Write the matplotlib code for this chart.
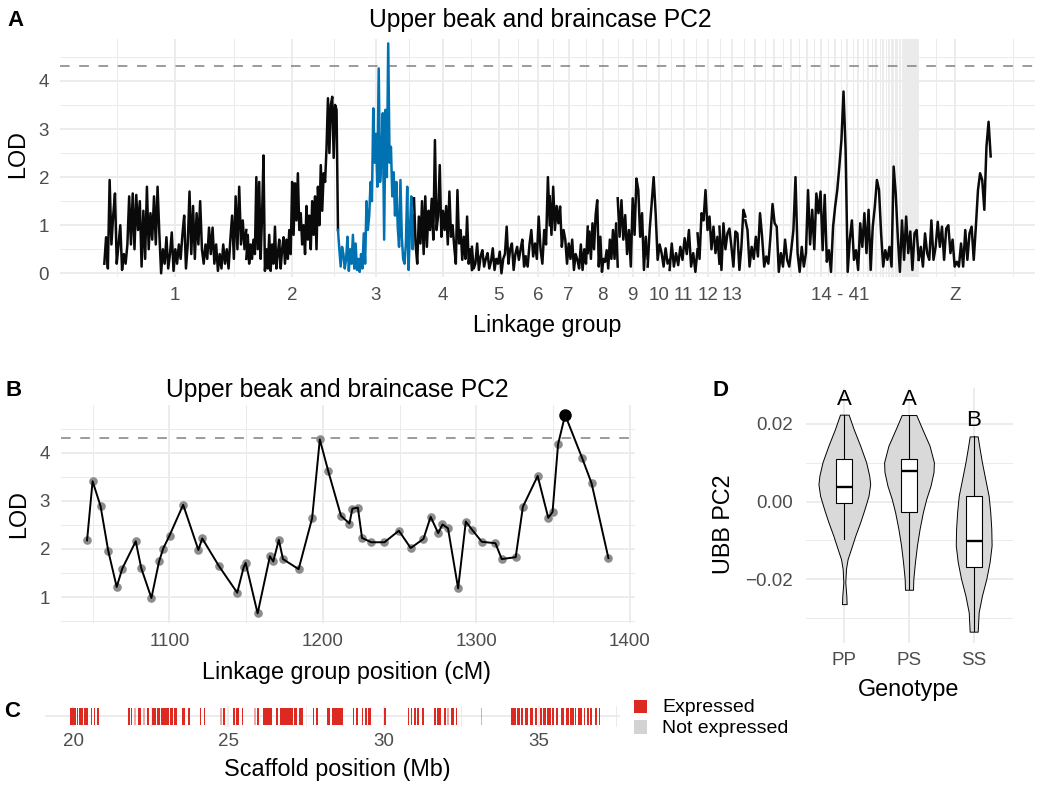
import matplotlib.pyplot as plt
import matplotlib.patches as mpatches
import numpy as np

plt.rcParams['font.family'] = ['Liberation Sans', 'DejaVu Sans']

W, H = 1050, 789
GRID = '#EBEBEB'
TICK = '#4D4D4D'
BLUE = '#0072B2'
RED = '#DC2A22'
GREY_FILL = '#D9D9D9'

# ---------------- panel A: genome scan ----------------
chrom_names = [str(i) for i in range(1, 42)] + ['Z']
chrom_len = [635, 410, 340, 259, 241, 107, 170, 134, 134, 98, 125, 98, 116,
             89, 80, 72, 67, 63, 58, 54, 45, 40, 36, 27, 22, 18, 16, 13, 11, 9,
             5, 5, 5, 5, 5, 5, 5, 5, 5, 5, 5,
             322]
micro_label = '14 - 41'
micro_label_pos = 3290
qtl_chrom = '3'
lod_threshold = 4.3

lod_scan = {
    '1': [0.2, 0.75, 0.1, 1.94, 0.6, 1.2, 1.66, 0.2, 0.6, 1.0, 0.07, 0.4, 0.2, 0.6,
          1.6, 0.6, 1.66, 0.5, 1.63, 0.9, 1.5, 0.14, 1.3, 0.3, 1.8, 0.5, 1.25, 0.7,
          1.6, 0.6, 1.8, 0.83, 0.0, 0.5, 0.2, 0.75, 0.1, 0.4, 0.85, 0.05, 0.5, 0.2,
          0.6, 0.3, 0.8, 1.2, 0.1, 0.6, 1.7, 0.4, 1.4, 0.3, 1.25, 0.6, 1.5, 0.5, 0.2,
          0.6, 0.3, 0.95, 0.4, 0.95, 0.2, 0.6, 0.05, 0.4, 0.1, 0.6, 0.2, 0.5, 0.1,
          0.7, 1.2, 0.3, 1.6, 0.5, 1.8, 0.6, 1.1, 0.5, 0.9],
    '2': [0.3, 0.8, 0.2, 0.6, 0.3, 0.7, 0.4, 2.0, 0.5, 1.9, 0.3, 1.2, 2.45, 0.05,
          0.5, 0.1, 0.8, 0.05, 0.6, 0.2, 0.97, 0.1, 0.4, 0.7, 0.1, 0.5, 0.75, 0.2,
          0.7, 0.3, 0.9, 0.4, 1.9, 0.8, 1.87, 1.1, 2.08, 0.9, 1.25, 0.6, 1.0, 0.4,
          1.4, 0.7, 1.2, 0.5, 1.5, 0.8, 1.6, 0.5, 1.8, 1.0, 2.25, 1.3, 2.08, 1.9,
          2.6, 3.64, 2.5, 3.5, 3.67, 2.4, 3.5, 3.4, 0.9],
    '3': [0.9, 0.5, 0.14, 0.55, 0.4, 0.1, 0.3, 0.76, 0.05, 0.5, 0.2, 0.8, 0.1, 0.62,
          0.07, 0.3, 0.03, 0.4, 0.1, 0.83, 0.2, 1.5, 0.9, 1.2, 1.9, 1.5, 3.43, 2.3,
          2.9, 1.8, 4.26, 1.9, 2.4, 3.33, 0.7, 3.4, 2.0, 4.78, 2.3, 2.63, 1.6, 2.1,
          1.2, 1.9, 0.97, 0.55, 1.94, 0.76, 0.3, 0.2, 0.6, 1.8, 0.07, 0.9, 1.6, 0.5,
          1.2],
    '4': [1.56, 0.6, 0.2, 1.18, 0.62, 1.5, 0.4, 1.6, 0.55, 1.3, 0.9, 1.55, 0.7, 2.77,
          0.9, 1.2, 2.25, 0.76, 1.3, 0.9, 1.4, 0.6, 1.7, 0.76, 1.0, 0.55, 0.2, 1.73,
          0.62, 0.9, 0.28, 0.76, 0.3, 1.18, 0.2, 0.5, 0.07],
    '5': [0.55, 0.1, 0.2, 0.62, 0.07, 0.35, 0.48, 0.14, 0.3, 0.42, 0.1, 0.25, 0.52,
          0.07, 0.3, 0.2, 0.45, 0.0, 0.3, 0.4, 0.97, 0.2, 0.5, 0.62, 0.07, 0.4, 0.55,
          0.28, 0.5, 0.7, 0.14, 0.35],
    '6': [0.3, 0.14, 0.6, 0.9, 0.35, 0.62, 0.3, 1.18, 0.5, 0.2, 0.9, 0.6, 2.0, 1.0],
    '7': [1.6, 0.8, 1.8, 0.9, 1.4, 1.04, 1.39, 0.55, 0.9, 0.7, 0.2, 0.62, 0.3, 0.7,
          0.07, 0.4, 0.28, 0.1, 0.6, 0.07, 0.5, 0.2, 0.97],
    '8': [0.42, 0.87, 0.3, 1.04, 0.5, 1.21, 1.52, 0.14, 0.76, 0.03, 0.3, 0.24, 0.48,
          0.1, 0.7, 0.3, 0.9, 0.3, 1.04, 0.14],
    '9': [1.56, 0.76, 1.52, 0.7, 1.21, 0.4, 0.9, 0.14, 1.56, 0.8, 1.97, 1.73, 0.76,
          1.25, 0.07, 0.76, 0.3],
    '10': [0.14, 0.9, 1.45, 2.0, 1.25, 0.28, 0.6, 0.42, 0.14, 0.52, 0.2, 0.28],
    '11': [0.07, 0.62, 0.14, 0.42, 0.17, 0.55, 0.28, 0.73, 0.4, 0.9, 0.14, 0.42,
           0.03, 0.5],
    '12': [0.83, 0.3, 1.25, 1.1, 1.73, 0.9, 1.18, 0.5, 0.97, 0.42, 0.76, 0.2],
    '13': [0.97, 0.07, 1.04, 0.5, 0.83, 0.93, 0.55, 0.14, 0.87, 0.83, 0.07, 0.55,
           1.32, 1.18],
    'Z': [0.28, 0.55, 0.14, 0.83, 0.42, 0.28, 1.1, 0.28, 0.55, 1.07, 0.55, 0.97, 0.28,
          0.93, 1.0, 0.42, 0.7, 0.14, 0.24, 0.14, 0.62, 0.14, 0.9, 0.28, 0.83, 0.97,
          0.28, 0.97, 1.73, 2.08, 1.94, 1.32, 2.63, 3.15, 2.43],
}
# chromosomes 14 - 41 drawn as one block
lod_micro = [1.1, 0.9, 0.14, 0.55, 0.3, 0.76, 0.35, 1.25, 0.76, 0.14, 0.35, 0.2, 0.76,
             1.44, 1.04, 0.97, 0.03, 0.42, 0.14, 0.7, 0.28, 0.14, 0.5, 0.9, 2.0, 0.42,
             0.03, 0.55, 0.14, 0.42, 1.73, 0.6, 1.32, 0.5, 1.66, 1.25, 1.7, 0.48, 1.63,
             0.24, 0.48, 0.03, 0.97, 1.39, 1.73, 2.22, 2.77, 3.78, 2.56, 0.03, 0.7, 1.1,
             0.28, 0.48, 0.07, 1.04, 0.55, 1.25, 0.42, 1.32, 0.07, 0.97, 1.39, 1.94,
             1.73, 0.83, 0.14, 0.48, 0.28, 0.55, 0.14, 2.22, 1.66, 0.76, 0.03, 1.1,
             0.28, 1.18, 0.42, 0.87, 0.07, 0.83, 0.9, 0.28]

# ---------------- panel B: chromosome 3 ----------------
pos_b = [1046.4, 1050.0, 1055.2, 1060.2, 1065.7, 1069.3, 1078.1, 1081.7, 1088.3, 1093.3,
         1096.0, 1100.1, 1109.0, 1118.9, 1121.4, 1132.4, 1144.2, 1148.4, 1149.7, 1157.5,
         1165.5, 1167.7, 1171.3, 1174.0, 1184.2, 1193.0, 1198.0, 1203.5, 1211.8, 1217.3,
         1219.2, 1222.8, 1225.5, 1231.6, 1240.1, 1249.5, 1257.2, 1265.5, 1270.2, 1275.1,
         1277.9, 1281.5, 1288.1, 1293.1, 1297.2, 1303.5, 1312.4, 1316.5, 1325.6, 1330.3,
         1339.9, 1346.8, 1349.6, 1353.2, 1357.8, 1368.9, 1375.0, 1386.0]
lod_b = [2.18, 3.41, 2.89, 1.96, 1.21, 1.59, 2.16, 1.60, 0.98, 1.74,
         2.01, 2.28, 2.92, 1.98, 2.22, 1.64, 1.09, 1.62, 1.71, 0.66,
         1.85, 1.74, 2.19, 1.79, 1.58, 2.64, 4.28, 3.62, 2.69, 2.53,
         2.84, 2.86, 2.23, 2.14, 2.14, 2.38, 2.02, 2.21, 2.67, 2.33,
         2.51, 2.43, 1.18, 2.57, 2.40, 2.15, 2.12, 1.79, 1.83, 2.88,
         3.52, 2.65, 2.77, 4.18, 4.79, 3.89, 3.37, 1.81]

# ---------------- panel C: genes on scaffold ----------------
gene_start = [19.91, 20.12, 20.19, 20.35, 20.56, 20.66, 20.77, 21.76, 21.87, 21.95,
              22.08, 22.24, 22.37, 22.55, 22.69, 22.84, 22.97, 23.13, 23.26, 23.51,
              23.69, 24.07, 24.20, 24.36, 24.73, 24.84, 25.14, 25.25, 25.44, 25.84,
              25.91, 26.10, 26.53, 26.66, 27.12, 27.28, 27.71, 27.82, 28.19, 28.33,
              29.00, 29.11, 29.30, 29.41, 29.51, 30.02, 30.77, 30.87, 30.98, 31.09,
              31.23, 31.62, 31.73, 31.95, 32.05, 32.16, 32.32, 33.13, 34.09, 34.30,
              34.44, 34.57, 34.73, 34.87, 35.05, 35.13, 35.27, 35.41, 35.54, 35.70,
              35.86, 36.02, 36.16, 36.26, 36.45, 36.55, 36.66, 36.82, 36.93]
gene_end = [20.08, 20.15, 20.32, 20.48, 20.62, 20.70, 20.83, 21.82, 21.90, 22.03,
            22.19, 22.31, 22.44, 22.68, 22.78, 22.95, 23.10, 23.21, 23.34, 23.59,
            23.75, 24.12, 24.24, 24.39, 24.80, 24.90, 25.20, 25.35, 25.48, 25.89,
            25.97, 26.42, 26.59, 27.07, 27.20, 27.39, 27.77, 27.90, 28.27, 28.68,
            29.05, 29.16, 29.34, 29.45, 29.59, 30.07, 30.82, 30.93, 31.04, 31.14,
            31.30, 31.68, 31.84, 32.02, 32.11, 32.26, 32.37, 33.18, 34.25, 34.38,
            34.49, 34.66, 34.81, 34.95, 35.11, 35.22, 35.38, 35.48, 35.62, 35.80,
            35.96, 36.12, 36.20, 36.39, 36.50, 36.61, 36.71, 36.87, 36.98]
faint_genes = [21.95, 22.24, 24.36, 24.73, 25.84, 32.05, 33.13]

# ---------------- panel D: genotype effect ----------------
genotypes = ['PP', 'PS', 'SS']
group_letters = ['A', 'A', 'B']
violin_y = {
    'PP': [0.0224, 0.0187, 0.0144, 0.0101, 0.0067, 0.0045, 0.0015, -0.0019, -0.0053,
           -0.0088, -0.0122, -0.0148, -0.0173, -0.0208, -0.0242, -0.0264],
    'PS': [0.0223, 0.0187, 0.0144, 0.0101, 0.0076, 0.0041, 0.0007, -0.0027, -0.0070,
           -0.0113, -0.0156, -0.0199, -0.0227],
    'SS': [0.0168, 0.0136, 0.0101, 0.0058, 0.0015, -0.0027, -0.0070, -0.0113, -0.0156,
           -0.0199, -0.0242, -0.0285, -0.0335],
}
violin_hw = {
    'PP': [0.067, 0.144, 0.246, 0.338, 0.385, 0.400, 0.374, 0.313, 0.246, 0.169,
           0.103, 0.051, 0.026, 0.015, 0.031, 0.036],
    'PS': [0.113, 0.205, 0.318, 0.385, 0.379, 0.333, 0.267, 0.215, 0.164, 0.123,
           0.092, 0.067, 0.062],
    'SS': [0.062, 0.092, 0.128, 0.179, 0.231, 0.256, 0.272, 0.277, 0.246, 0.195,
           0.128, 0.077, 0.062],
}
box_lo = [-0.0096, -0.0226, -0.0333]
box_q1 = [-0.0003, -0.0027, -0.0168]
box_med = [0.0038, 0.0079, -0.0102]
box_q3 = [0.0110, 0.0110, 0.0015]
box_hi = [0.0223, 0.0223, 0.0168]

# ---------------- helpers ----------------
fig = plt.figure(figsize=(W / 100, H / 100), dpi=100)


def px_axes(left, top, right, bottom):
    ax = fig.add_axes([left / W, 1 - bottom / H, (right - left) / W, (bottom - top) / H])
    for sp in ax.spines.values():
        sp.set_visible(False)
    ax.tick_params(length=0, colors=TICK, labelsize=13.5)
    return ax


def px_text(x, y, s, **kw):
    kw.setdefault('ha', 'center')
    kw.setdefault('va', 'baseline')
    fig.text(x / W, 1 - y / H, s, **kw)


def vgrid(ax, xs, lw):
    for x in xs:
        ax.axvline(x, color=GRID, lw=lw, zorder=0)


def hgrid(ax, ys, lw):
    for y in ys:
        ax.axhline(y, color=GRID, lw=lw, zorder=0)


# ---------------- panel A ----------------
axA = px_axes(60, 39.3, 1035, 277.3)
starts = np.concatenate([[0], np.cumsum(chrom_len)[:-1]])
ends = starts + np.array(chrom_len)
centers = (starts + ends) / 2
total = ends[-1]
axA.set_xlim(-0.05 * total, 1.05 * total)
axA.set_ylim(-0.083, 4.865)

bd = centers[1] - centers[0]
ext = np.concatenate([[centers[0] - bd], centers, [centers[-1] + bd]])
vgrid(axA, (ext[:-1] + ext[1:]) / 2, 0.7)
vgrid(axA, centers, 1.3)
hgrid(axA, np.arange(0.5, 5, 1.0), 0.7)
hgrid(axA, range(5), 1.3)
axA.axhline(lod_threshold, color='#808080', lw=1.1, ls='--', dashes=(6.3, 6.3), zorder=1)

for name, vals in lod_scan.items():
    i = chrom_names.index(name)
    x = np.linspace(starts[i], ends[i], len(vals))
    axA.plot(x, vals, color=BLUE if name == qtl_chrom else '#0A0A0A', lw=1.8, zorder=2)
i14, i41 = chrom_names.index('14'), chrom_names.index('41')
axA.plot(np.linspace(starts[i14], ends[i41], len(lod_micro)), lod_micro,
         color='#0A0A0A', lw=1.8, zorder=2)

xt = list(centers[:13]) + [micro_label_pos, centers[-1]]
xl = chrom_names[:13] + [micro_label, 'Z']
axA.set_xticks(xt)
axA.set_xticklabels(xl)
axA.set_yticks(range(5))
axA.tick_params(axis='x', pad=7)
axA.tick_params(axis='y', pad=7.9)

px_text(15, 26.5, 'A', fontsize=16, fontweight='bold')
px_text(540, 26.5, 'Upper beak and braincase PC2', fontsize=17.7)
px_text(547, 332, 'Linkage group', fontsize=16.8)
px_text(18, 154, 'LOD', fontsize=16.8, rotation=90, va='center')

# ---------------- panel B ----------------
axB = px_axes(61, 405, 634.5, 623.3)
rx = max(pos_b) - min(pos_b)
ry = max(lod_b) - min(lod_b)
axB.set_xlim(min(pos_b) - 0.05 * rx, max(pos_b) + 0.05 * rx)
axB.set_ylim(min(lod_b) - 0.05 * ry, max(lod_b) + 0.05 * ry)
vgrid(axB, [1050, 1150, 1250, 1350], 0.7)
vgrid(axB, [1100, 1200, 1300, 1400], 1.3)
hgrid(axB, [0.5, 1.5, 2.5, 3.5, 4.5], 0.7)
hgrid(axB, [1, 2, 3, 4], 1.3)
axB.axhline(lod_threshold, color='#808080', lw=1.1, ls='--', dashes=(6.3, 6.3), zorder=1)
axB.plot(pos_b, lod_b, 'o', color='#8C8C8C', ms=6.2, mew=0, zorder=2)
axB.plot(pos_b, lod_b, color='black', lw=1.4, zorder=3)
imax = int(np.argmax(lod_b))
axB.plot(pos_b[imax], lod_b[imax], 'o', color='black', ms=9, mew=0, zorder=4)
axB.set_xticks([1100, 1200, 1300, 1400])
axB.set_yticks([1, 2, 3, 4])
axB.tick_params(axis='x', pad=7.2)
axB.tick_params(axis='y', pad=7.9)

px_text(14, 396.5, 'B', fontsize=16, fontweight='bold')
px_text(337, 396.5, 'Upper beak and braincase PC2', fontsize=17.7)
px_text(347, 678.5, 'Linkage group position (cM)', fontsize=16.8)
px_text(19, 514, 'LOD', fontsize=16.8, rotation=90, va='center')

# ---------------- panel C ----------------
axC = px_axes(44.5, 706, 620, 726.7)
axC.set_xlim(19.075, 37.615)
axC.set_ylim(0.4, 1.6)
vgrid(axC, [17.5, 22.5, 27.5, 32.5, 37.5], 0.7)
vgrid(axC, [20, 25, 30, 35], 1.3)
hgrid(axC, [1], 1.3)
for s, e in zip(gene_start, gene_end):
    faint = s in faint_genes
    axC.bar(s, 1.0, width=e - s, bottom=0.5, align='edge', color=RED,
            alpha=0.4 if faint else 1.0, lw=0, zorder=2)
axC.set_xticks([20, 25, 30, 35])
axC.set_yticks([])
axC.tick_params(axis='x', pad=4.5)

px_text(12, 717, 'C', fontsize=16, fontweight='bold')
px_text(337, 776, 'Scaffold position (Mb)', fontsize=16.8)

fig.add_artist(mpatches.Rectangle((633.5 / W, 1 - 713 / H), 13.5 / W, 13.5 / H,
                                  transform=fig.transFigure, color=RED, lw=0))
fig.add_artist(mpatches.Rectangle((633.5 / W, 1 - 733.5 / H), 13.5 / W, 13.5 / H,
                                  transform=fig.transFigure, color='#D3D3D3', lw=0))
px_text(662.5, 712.5, 'Expressed', fontsize=14, ha='left')
px_text(662.5, 733, 'Not expressed', fontsize=14, ha='left')

# ---------------- panel D ----------------
axD = px_axes(805.5, 387.5, 1012.5, 643.3)
ylo = min(min(v) for v in violin_y.values())
letter_y = [max(violin_y[g]) + 0.004 for g in genotypes]
yhi = max(letter_y)
axD.set_xlim(0.4, 3.6)
axD.set_ylim(ylo - 0.05 * (yhi - ylo), yhi + 0.05 * (yhi - ylo))
hgrid(axD, [-0.03, -0.01, 0.01], 0.7)
hgrid(axD, [-0.02, 0.0, 0.02], 1.3)
vgrid(axD, [1, 2, 3], 1.3)

bw = 0.245
for i, g in enumerate(genotypes):
    xc = i + 1
    y = np.array(violin_y[g])
    hw = np.array(violin_hw[g])
    axD.fill_betweenx(y, xc - hw, xc + hw, facecolor=GREY_FILL, edgecolor='black',
                      lw=0.7, zorder=2)
    axD.plot([xc, xc], [box_lo[i], box_q1[i]], color='black', lw=0.8, zorder=3)
    axD.plot([xc, xc], [box_q3[i], box_hi[i]], color='black', lw=0.8, zorder=3)
    axD.add_patch(mpatches.Rectangle((xc - bw / 2, box_q1[i]), bw, box_q3[i] - box_q1[i],
                                     facecolor='white', edgecolor='black', lw=0.8, zorder=4))
    axD.plot([xc - bw / 2, xc + bw / 2], [box_med[i], box_med[i]], color='black',
             lw=1.7, zorder=5, solid_capstyle='butt')
    axD.text(xc, letter_y[i], group_letters[i], ha='center', va='center', fontsize=16,
             color='black')

axD.set_xticks([1, 2, 3])
axD.set_xticklabels(genotypes)
axD.set_yticks([-0.02, 0.0, 0.02])
axD.set_yticklabels(['\u22120.02', '0.00', '0.02'])
axD.tick_params(axis='x', pad=6.5)
axD.tick_params(axis='y', pad=8.8)

px_text(720, 396.5, 'D', fontsize=16, fontweight='bold')
px_text(909, 696, 'Genotype', fontsize=16.8)
px_text(723, 524, 'UBB PC2', fontsize=16.8, rotation=90, va='center')

fig.savefig('out.png', dpi=100)
